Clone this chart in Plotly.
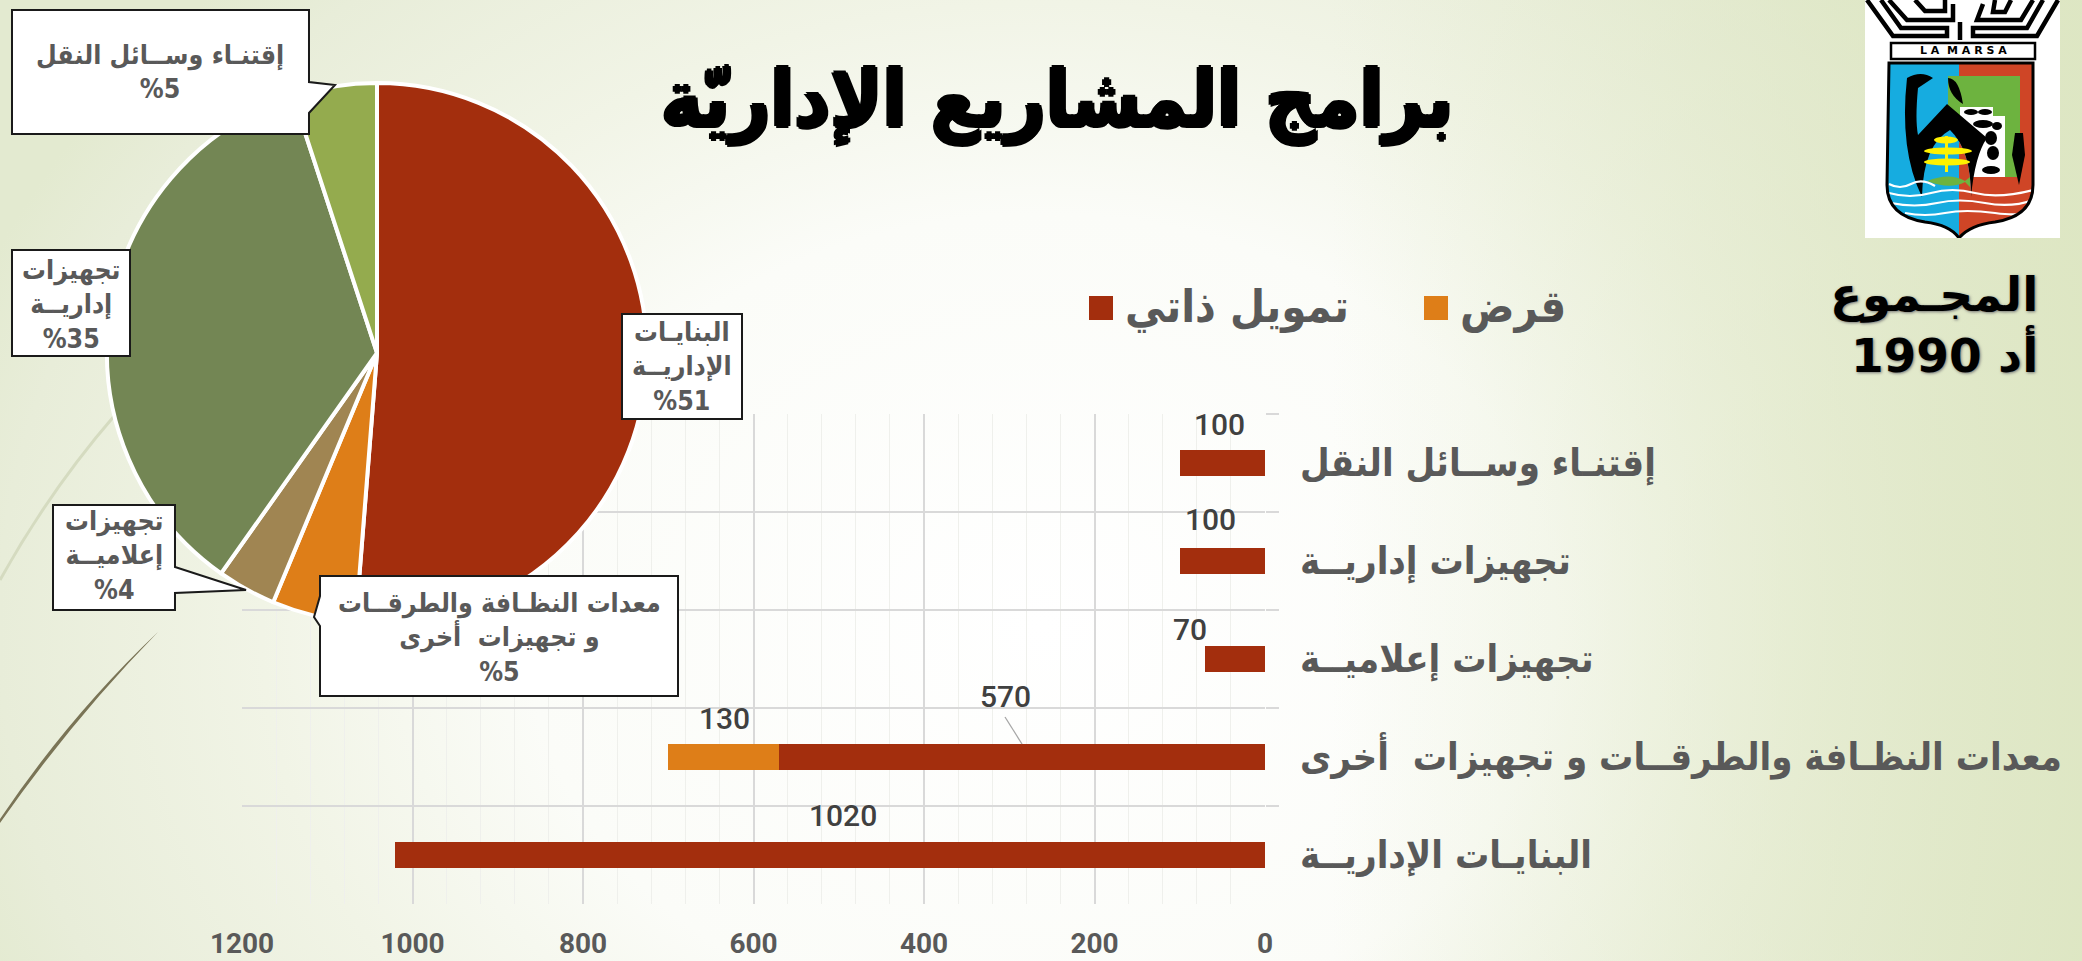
import base64
import plotly.graph_objects as go

W, H = 2082, 961

# ---- data ----
categories = ["البنايـات الإداريــة",
              "معدات النظـافة والطرقــات و تجهيزات\u00a0\u00a0أخرى",
              "تجهيزات إعلاميــة",
              "تجهيزات إداريــة",
              "إقتنـاء وســائل النقل"]
self_funding = [1020, 570, 70, 100, 100]
loan = [0, 130, 0, 0, 0]
series_names = ["تمويل ذاتي", "قرض"]
x_ticks = [0, 200, 400, 600, 800, 1000, 1200]

pie_values = [1020, 100, 70, 700, 100]
pie_colors = ["#A32E0D", "#DE7E18", "#A08552", "#738654", "#94AB4E"]

title_text = "برامج المشاريع الإداريّة"
total_text = "المجـموع<br>أد 1990"
callout_texts = ["إقتنـاء وســائل النقل<br>%5",
                 "تجهيزات<br>إداريــة<br>%35",
                 "البنايـات<br>الإداريــة<br>%51",
                 "تجهيزات<br>إعلاميــة<br>%4",
                 "معدات النظـافة والطرقــات<br>و تجهيزات\u00a0\u00a0أخرى<br>%5"]

RED, ORANGE = pie_colors[0], pie_colors[1]
GREY = "#595959"
FONT = "DejaVu Sans"
COND = "DejaVu Sans Condensed"


def X(x):
    return x / W


def Y(y):
    return 1 - y / H


def P(points):
    return "M" + " L".join(f"{X(a):.5f},{Y(b):.5f}" for a, b in points) + " Z"


def uri(svg):
    return "data:image/svg+xml;base64," + base64.b64encode(svg.encode()).decode()


bg_svg = f'''<svg xmlns="http://www.w3.org/2000/svg" width="{W}" height="{H}" preserveAspectRatio="none">
<defs><radialGradient id="g" cx="0.5" cy="0.65" r="1" gradientTransform="translate(.5,.65) scale(.55,.95) translate(-.5,-.65)">
<stop offset="0" stop-color="#FFFFFF"/><stop offset="0.45" stop-color="#FBFCF8"/>
<stop offset="0.68" stop-color="#F1F4E6"/><stop offset="0.91" stop-color="#E8EDD9"/><stop offset="1" stop-color="#E3EAD0"/>
</radialGradient>
<linearGradient id="r" x1="0" x2="1" y1="0" y2="0"><stop offset="0.64" stop-color="#DDE6C2" stop-opacity="0"/>
<stop offset="1" stop-color="#DDE6C2" stop-opacity="0.9"/></linearGradient></defs>
<rect width="{W}" height="{H}" fill="url(#g)"/><rect width="{W}" height="{H}" fill="url(#r)"/></svg>'''

logo_svg = '''<svg xmlns="http://www.w3.org/2000/svg" width="195" height="238" viewBox="0 0 195 238">
<defs><clipPath id="s"><path d="M24,63 H168 V185 Q168,216 130,222 Q105,225 94,238 Q85,225 60,222 Q22,216 22,185 Z"/></clipPath>
<clipPath id="a"><path d="M57,197 Q58,145 85,130 Q106,150 106,197 Z"/></clipPath></defs>
<rect width="195" height="238" fill="#fff"/>
<g fill="none" stroke="#000" stroke-width="4.5">
<path d="M2,0 L28,36 H82 V28 H36 L16,0"/><path d="M24,0 L42,20 H88 V4"/><path d="M50,0 L60,11 H80 V0"/>
<path d="M193,0 L172,36 H108 V28 H162 L178,0"/><path d="M168,0 L156,20 H112 L118,4"/><path d="M146,0 L140,12 H128 L130,0"/>
<path d="M95,22 V40"/></g>
<rect x="26" y="43" width="144" height="16" fill="#fff" stroke="#000" stroke-width="2.5"/>
<g clip-path="url(#s)">
<rect x="20" y="60" width="74" height="180" fill="#16ACE0"/>
<rect x="94" y="60" width="76" height="180" fill="#CF4526"/>
<rect x="83" y="76" width="72" height="101" fill="#6DB33F"/>
<path d="M95,107 H128 V116 H140 V177 H95 Z" fill="#fff"/>
<g fill="#000"><ellipse cx="106" cy="112" rx="7" ry="3"/><ellipse cx="120" cy="112" rx="7" ry="3"/>
<ellipse cx="118" cy="124" rx="10" ry="4"/><ellipse cx="132" cy="126" rx="5" ry="4"/><ellipse cx="126" cy="138" rx="6" ry="7"/><ellipse cx="128" cy="153" rx="6" ry="7"/><ellipse cx="126" cy="170" rx="9" ry="4"/></g>
<path d="M42,78 Q56,70 68,78 L53,88 Q50,120 53,135 L82,104 L122,138 Q110,155 106,197 L57,197 Q34,150 42,78 Z" fill="#000"/>
<path d="M57,197 Q58,145 85,130 Q106,150 106,197 Z" fill="#16ACE0"/>
<rect x="94" y="125" width="20" height="75" fill="#CF4526" clip-path="url(#a)"/>
<path d="M83,78 Q94,78 98,104 Q83,95 83,78 Z" fill="#000"/>
<path d="M150,133 H158 L160,155 L154,185 L147,155 Z" fill="#000"/>
<g fill="#FFF200"><ellipse cx="81" cy="140" rx="12" ry="3.5"/><ellipse cx="83" cy="151" rx="24" ry="3.5"/><ellipse cx="82" cy="162" rx="23" ry="3.5"/><rect x="80" y="136" width="3" height="36"/></g>
<path d="M62,181 Q85,172 100,181 L105,177 V187 L100,182 Q85,190 62,181 Z" fill="#6DB33F"/>
<g fill="none" stroke="#fff" stroke-width="2.2">
<path d="M24,184 Q35,190 46,184 T70,186"/><path d="M24,193 Q45,199 66,193 T110,193 T168,190"/><path d="M26,203 Q50,208 72,203 T120,203 T168,200"/><path d="M40,213 Q60,217 80,213 T130,213 T160,210"/></g>
</g>
<path d="M24,63 H168 V185 Q168,216 130,222 Q105,225 94,238 Q85,225 60,222 Q22,216 22,185 Z" fill="none" stroke="#000" stroke-width="3"/>
</svg>'''

fig = go.Figure()

fig.add_trace(go.Pie(values=pie_values, sort=False, direction="clockwise", rotation=0,
                     marker=dict(colors=pie_colors, line=dict(color="#FFFFFF", width=4)),
                     textinfo="none", showlegend=False,
                     domain=dict(x=[X(377 - 270), X(377 + 270)], y=[Y(353 + 270), Y(353 - 270)])))

fig.add_trace(go.Bar(y=categories, x=self_funding, orientation="h", name=series_names[0],
                     marker=dict(color=RED, line=dict(width=0)), showlegend=False))
fig.add_trace(go.Bar(y=categories, x=loan, orientation="h", name=series_names[1],
                     marker=dict(color=ORANGE, line=dict(width=0)), showlegend=False))

boxes = [
    [(12, 10), (309, 10), (309, 82), (335, 85), (309, 113), (309, 134), (12, 134)],
    [(12, 250), (130, 250), (130, 356), (12, 356)],
    [(622, 314), (742, 314), (742, 419), (622, 419)],
    [(53, 505), (175, 505), (175, 567), (246, 590), (175, 593), (175, 610), (53, 610)],
    [(320, 576), (678, 576), (678, 696), (320, 696), (320, 626), (314, 617), (320, 596)],
]
shapes = [dict(type="path", xref="paper", yref="paper", path=P(b), fillcolor="#FFFFFF",
               line=dict(color="#1A1A1A", width=2), layer="above") for b in boxes]

shapes.append(dict(type="path", xref="paper", yref="paper", layer="below",
                   path=f"M{X(0)},{Y(819)} Q{X(70)},{Y(715)} {X(158)},{Y(632)} Q{X(73)},{Y(719)} {X(0)},{Y(823)} Z",
                   fillcolor="#7A7456", line=dict(width=0)))
shapes.append(dict(type="path", xref="paper", yref="paper", layer="below",
                   path=f"M{X(0)},{Y(580)} Q{X(50)},{Y(490)} {X(115)},{Y(415)}",
                   line=dict(color="#D5DBC0", width=3)))
shapes.append(dict(type="line", xref="paper", yref="paper", x0=X(1005), y0=Y(717), x1=X(1022), y1=Y(744),
                   line=dict(color="#A6A6A6", width=1.3), layer="above"))

annotations = []
for name, colour, left, text_left in zip(series_names, (RED, ORANGE), (1089, 1424), (1123, 1458)):
    shapes.append(dict(type="rect", xref="paper", yref="paper", x0=X(left), x1=X(left + 24), y0=Y(320), y1=Y(296),
                       fillcolor=colour, line=dict(width=0), layer="above"))
    annotations.append(dict(text=name, xref="paper", yref="paper", x=X(text_left), y=Y(306), showarrow=False,
                            xanchor="left", yanchor="middle",
                            font=dict(family=COND, size=45, color=GREY, weight="bold")))

centres = [(160, 72), (71, 304), (682, 366), (114, 555), (499, 637)]
for text, (cx, cy) in zip(callout_texts, centres):
    annotations.append(dict(text=text, xref="paper", yref="paper", x=X(cx), y=Y(cy), showarrow=False,
                            xanchor="center", yanchor="middle", align="center",
                            font=dict(family=COND, size=26.5, color=GREY, weight="bold")))

value_labels = [(self_funding[4], 1219, 424), (self_funding[3], 1210, 519), (self_funding[2], 1190, 629),
                (loan[1], 724, 718), (self_funding[1], 1005, 696), (self_funding[0], 843, 815)]
for v, cx, cy in value_labels:
    annotations.append(dict(text=str(v), xref="paper", yref="paper", x=X(cx), y=Y(cy), showarrow=False,
                            xanchor="center", yanchor="middle",
                            font=dict(family="Roboto", size=30, color="#404040", weight=500)))

thick = "2px 0 0 #000,-2px 0 0 #000,0 2px 0 #000,0 -2px 0 #000"
annotations.append(dict(text=title_text, xref="paper", yref="paper", x=X(1057), y=Y(100), showarrow=False,
                        xanchor="center", yanchor="middle",
                        font=dict(family=COND, size=78, color="#000000", weight="bold", shadow=thick)))
annotations.append(dict(text=total_text, xref="paper", yref="paper", x=X(2040), y=Y(325), showarrow=False,
                        xanchor="right", yanchor="middle", align="right",
                        font=dict(family=FONT, size=47, color="#000000", weight="bold",
                                  shadow="1px 1px 3px #777777")))
annotations.append(dict(text="L A  M A R S A", xref="paper", yref="paper", x=X(1963), y=Y(51), showarrow=False,
                        xanchor="center", yanchor="middle",
                        font=dict(family="DejaVu Sans", size=11, color="#000000", weight="bold")))

fig.update_layout(
    width=W, height=H, autosize=False,
    margin=dict(l=0, r=0, t=0, b=0, pad=0, autoexpand=False),
    paper_bgcolor="#F4F7EA", plot_bgcolor="rgba(0,0,0,0)",
    barmode="stack", bargap=0.725, showlegend=False,
    xaxis=dict(domain=[X(242), X(1265)], range=[1200, 0], tickvals=x_ticks, showline=False, zeroline=False,
               automargin=False,
               showgrid=True, gridcolor="#D9D9D9", gridwidth=2, ticks="", ticklabelstandoff=20,
               minor=dict(dtick=40, tick0=0, showgrid=True, gridcolor="#EFF0EC", gridwidth=1, ticks=""),
               tickfont=dict(family="Roboto", size=28, color=GREY, weight="bold")),
    yaxis=dict(domain=[Y(904), Y(414)], side="right", type="category", categoryorder="array",
               automargin=False,
               categoryarray=categories, tickson="boundaries", showgrid=True, gridcolor="#D9D9D9", gridwidth=2,
               ticks="outside", ticklen=13, tickwidth=2, tickcolor="#D9D9D9", showline=False, zeroline=False,
               ticklabelstandoff=34,
               tickfont=dict(family=COND, size=38, color=GREY, weight="bold")),
    images=[
        dict(source=uri(bg_svg), xref="paper", yref="paper", x=0, y=1, sizex=1, sizey=1,
             sizing="stretch", layer="below"),
        dict(source=uri(logo_svg), xref="paper", yref="paper", x=X(1865), y=1, sizex=195 / W, sizey=238 / H,
             sizing="stretch", layer="above"),
    ],
    shapes=shapes, annotations=annotations,
)

fig.write_html("out.html", config=dict(displayModeBar=False),
               post_script="document.body.style.margin='0';document.body.style.overflow='hidden';")
